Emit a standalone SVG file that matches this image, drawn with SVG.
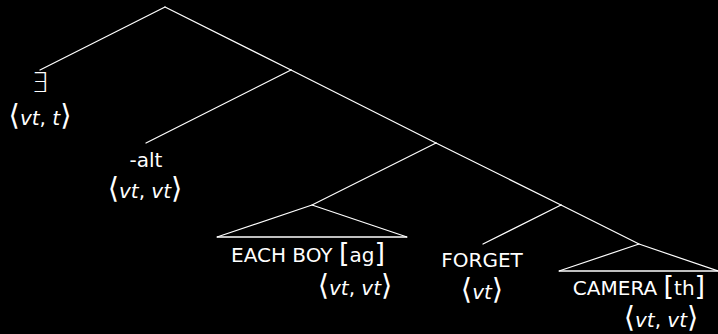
<svg xmlns="http://www.w3.org/2000/svg" width="718" height="334" viewBox="0 0 718 334">
<style>
.e{stroke:#fff;stroke-width:1.2;fill:none;stroke-linecap:round}
.b{stroke:#fff;stroke-width:1.5;fill:none}
text{fill:#fff;font-family:"DejaVu Sans","Liberation Sans",sans-serif;font-size:20px;text-anchor:middle}
.i{font-style:italic}
.br{font-size:29px}
.sq{font-size:27px}
.ex{font-size:27px;font-family:"DejaVu Sans ExtraLight","DejaVu Sans",sans-serif;font-weight:200}
</style>
<rect width="718" height="334" fill="#000"/>
<g id="connectors">
<line class="e" x1="165" y1="7" x2="40" y2="70"/>
<line class="e" x1="165" y1="7" x2="291" y2="70"/>
<line class="e" x1="291" y1="70" x2="146" y2="143"/>
<line class="e" x1="291" y1="70" x2="436" y2="143"/>
<line class="e" x1="436" y1="143" x2="312" y2="205"/>
<line class="e" x1="436" y1="143" x2="561" y2="205"/>
<line class="e" x1="561" y1="205" x2="483" y2="244"/>
<line class="e" x1="561" y1="205" x2="639" y2="244"/>
</g>
<g id="exists">
<text class="ex" x="40" y="92">∃</text>
<text x="40" y="125"><tspan class="br">⟨</tspan><tspan class="i">vt</tspan>, <tspan class="i">t</tspan><tspan class="br">⟩</tspan></text>
</g>
<g id="alt">
<text x="146" y="167">-alt</text>
<text x="145" y="198"><tspan class="br">⟨</tspan><tspan class="i">vt</tspan>, <tspan class="i">vt</tspan><tspan class="br">⟩</tspan></text>
</g>
<g id="eachboy">
<path class="e" d="M312,205 L217,237 M312,205 L407,237"/>
<line class="b" x1="217" y1="237" x2="407" y2="237"/>
<text x="308" y="262">EACH BOY <tspan class="sq">[</tspan>ag<tspan class="sq">]</tspan></text>
<text x="355" y="295"><tspan class="br">⟨</tspan><tspan class="i">vt</tspan>, <tspan class="i">vt</tspan><tspan class="br">⟩</tspan></text>
</g>
<g id="forget">
<text x="482" y="267">FORGET</text>
<text x="482" y="299"><tspan class="br">⟨</tspan><tspan class="i">vt</tspan><tspan class="br">⟩</tspan></text>
</g>
<g id="camera">
<path class="e" d="M639,244 L559,271 M639,244 L718,271"/>
<line class="b" x1="559" y1="271" x2="718" y2="271"/>
<text x="639" y="295">CAMERA <tspan class="sq">[</tspan>th<tspan class="sq">]</tspan></text>
<text x="661" y="327"><tspan class="br">⟨</tspan><tspan class="i">vt</tspan>, <tspan class="i">vt</tspan><tspan class="br">⟩</tspan></text>
</g>
</svg>
